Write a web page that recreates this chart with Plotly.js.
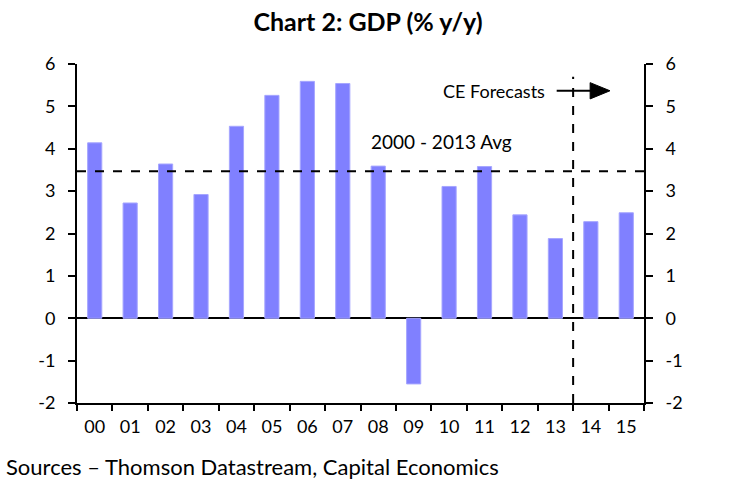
<!DOCTYPE html>
<html>
<head>
<meta charset="utf-8">
<script src="https://cdn.plot.ly/plotly-3.0.1.min.js"></script>
<style>html,body{margin:0;padding:0;background:#fff;}#chart{width:736px;height:480px;}</style>
</head>
<body>
<div id="chart"></div>
<script>
var categories = ["00","01","02","03","04","05","06","07","08","09","10","11","12","13","14","15"];
var gdp = [4.14, 2.72, 3.64, 2.92, 4.53, 5.26, 5.59, 5.54, 3.59, -1.55, 3.11, 3.58, 2.44, 1.88, 2.28, 2.49];
var avg2000_2013 = 3.47;
var forecastBoundary = 13.5;
var yTickVals = [-2, -1, 0, 1, 2, 3, 4, 5, 6];
var yTickText = ["-2", "-1", "0", "1", "2", "3", "4", "5", "6"];

var FONT = "Lato, 'Open Sans', sans-serif";

var traces = [
  {
    type: "bar",
    x: categories,
    y: gdp,
    marker: {color: "#8080ff", line: {color: "#a6a6ff", width: 1}},
    hoverinfo: "x+y"
  },
  {
    type: "scatter",
    mode: "lines",
    x: categories,
    y: categories.map(function(){return null;}),
    yaxis: "y2",
    showlegend: false,
    hoverinfo: "skip"
  }
];

var layout = {
  width: 736,
  height: 480,
  margin: {l: 77, r: 92, t: 64, b: 77},
  paper_bgcolor: "#ffffff",
  plot_bgcolor: "#ffffff",
  showlegend: false,
  bargap: 0.6,
  font: {family: FONT, color: "#000", size: 18},
  title: {
    text: "<b>Chart 2: GDP (% y/y)</b>",
    font: {family: FONT, size: 25, color: "#000"},
    x: 0.5, xanchor: "center",
    y: 1 - 22/480, yanchor: "middle", yref: "container"
  },
  xaxis: {
    type: "category",
    tickson: "boundaries",
    ticks: "outside",
    ticklen: 6,
    tickwidth: 2,
    tickcolor: "#000",
    ticklabelstandoff: 6,
    showline: true,
    linecolor: "#000",
    linewidth: 2,
    showgrid: false,
    zeroline: false,
    tickfont: {family: FONT, size: 18, color: "#000"},
    range: [-0.5, 15.5],
    fixedrange: true
  },
  yaxis: {
    range: [-2, 6],
    tickvals: yTickVals,
    ticktext: yTickText,
    ticks: "outside",
    ticklen: 7,
    tickwidth: 2,
    tickcolor: "#000",
    ticklabelstandoff: 9,
    showline: true,
    linecolor: "#000",
    linewidth: 2,
    showgrid: false,
    zeroline: true,
    zerolinecolor: "#000",
    zerolinewidth: 2,
    tickfont: {family: FONT, size: 18, color: "#000"},
    fixedrange: true
  },
  yaxis2: {
    overlaying: "y",
    side: "right",
    range: [-2, 6],
    tickvals: yTickVals,
    ticktext: yTickText,
    ticks: "outside",
    ticklen: 7,
    tickwidth: 2,
    tickcolor: "#000",
    ticklabelstandoff: 9,
    showline: true,
    linecolor: "#000",
    linewidth: 2,
    showgrid: false,
    zeroline: false,
    tickfont: {family: FONT, size: 18, color: "#000"},
    fixedrange: true
  },
  shapes: [
    {type: "line", xref: "paper", yref: "y", x0: 0, x1: 1, y0: avg2000_2013, y1: avg2000_2013,
     line: {color: "#000", width: 2, dash: "dash"}},
    {type: "line", xref: "x", yref: "y", x0: forecastBoundary, x1: forecastBoundary, y0: -2, y1: 5.7,
     line: {color: "#000", width: 2, dash: "dash"}},
    {type: "line", xref: "paper", yref: "paper", x0: 0.846, x1: 0.91, y0: 0.921, y1: 0.921,
     line: {color: "#000", width: 2}},
    {type: "path", xref: "paper", yref: "paper",
     path: "M 0.905 0.945 L 0.940 0.921 L 0.905 0.897 Z",
     fillcolor: "#000", line: {color: "#000", width: 1}}
  ],
  annotations: [
    {text: "CE Forecasts", xref: "paper", yref: "paper", x: 0.829, y: 0.921,
     xanchor: "right", yanchor: "middle", showarrow: false,
     font: {family: FONT, size: 18, color: "#000"}},
    {text: "2000 - 2013 Avg", xref: "paper", yref: "paper", x: 0.642, y: 0.771,
     xanchor: "center", yanchor: "middle", showarrow: false,
     font: {family: FONT, size: 19, color: "#000"}},
    {text: "Sources \u2013 Thomson Datastream, Capital Economics", xref: "paper", yref: "paper",
     x: -73/567, y: -63/339, xanchor: "left", yanchor: "middle", showarrow: false,
     font: {family: FONT, size: 22, color: "#000"}}
  ]
};

Plotly.newPlot("chart", traces, layout, {staticPlot: true, displayModeBar: false});
</script>
</body>
</html>
